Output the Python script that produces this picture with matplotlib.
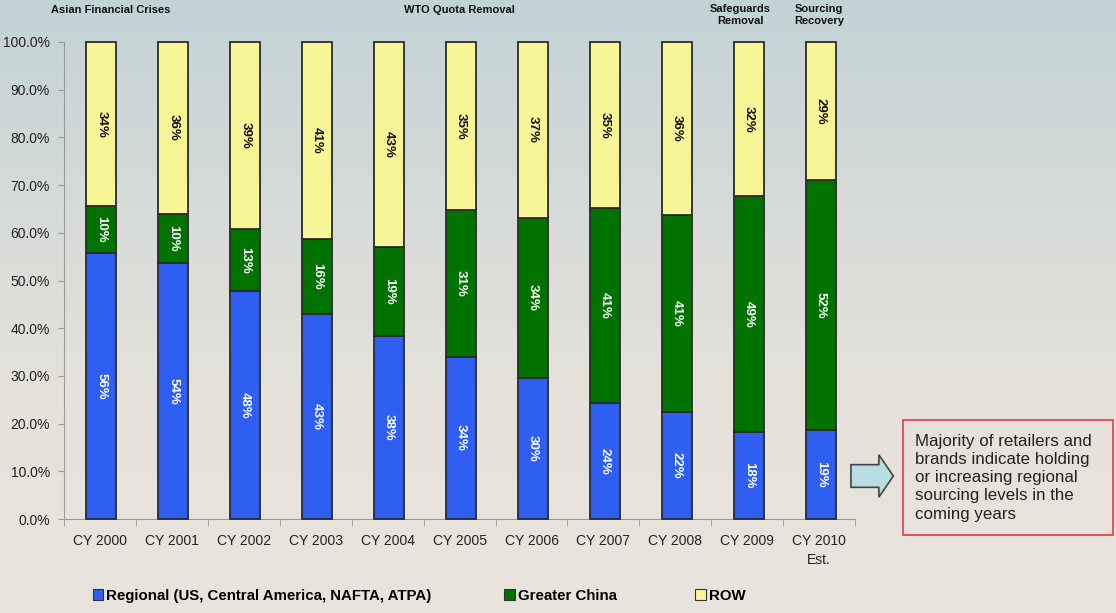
import matplotlib
matplotlib.use("Agg")
import matplotlib.pyplot as plt
import matplotlib.transforms as mtransforms
import numpy as np
from matplotlib.colors import LinearSegmentedColormap
from matplotlib.patches import FancyArrow, Patch, Rectangle

plt.rcParams["font.family"] = ["Liberation Sans", "DejaVu Sans"]

years = ["CY 2000", "CY 2001", "CY 2002", "CY 2003", "CY 2004", "CY 2005",
         "CY 2006", "CY 2007", "CY 2008", "CY 2009", "CY 2010\nEst."]
# sourcing shares in percent (labels show the rounded values)
regional = [55.7, 53.6, 47.8, 43.0, 38.3, 34.0, 29.6, 24.3, 22.4, 18.3, 18.6]
china = [9.9, 10.4, 13.0, 15.8, 18.8, 30.7, 33.6, 40.8, 41.4, 49.4, 52.4]
row = [34.4, 36.0, 39.2, 41.2, 42.9, 35.3, 36.8, 34.9, 36.2, 32.3, 29.0]

series_names = ["Regional (US, Central America, NAFTA, ATPA)", "Greater China", "ROW"]
series_colors = ["#2f5ef2", "#007200", "#f8f597"]
label_colors = ["white", "white", "#111111"]

events = [(0.15, "Asian Financial Crises"), (5.0, "WTO Quota Removal"),
          (8.9, "Safeguards\nRemoval"), (10.0, "Sourcing\nRecovery")]

note = ("Majority of retailers and\nbrands indicate holding\n"
        "or increasing regional\nsourcing levels in the\ncoming years")

fig = plt.figure(figsize=(11.16, 6.13), dpi=100)

# soft vertical background: blue-grey at the top fading into beige
bg = fig.add_axes([0, 0, 1, 1], zorder=-10)
grad = np.linspace(0, 1, 256).reshape(-1, 1)
cmap = LinearSegmentedColormap.from_list("bg", ["#c2d3d6", "#d6dbd8", "#e6e2db", "#e9e4dd"])
bg.imshow(grad, aspect="auto", cmap=cmap, extent=[0, 1, 0, 1], origin="upper")
bg.axis("off")

ax = fig.add_axes([0.0573, 0.1533, 0.709, 0.7782])
ax.patch.set_alpha(0)

x = np.arange(len(years))
width = 0.42
bottom = np.zeros(len(years))
for vals, color, tcolor in zip([regional, china, row], series_colors, label_colors):
    vals = np.array(vals, dtype=float)
    bars = ax.bar(x + 0.02, vals, width, bottom=bottom, color=color, edgecolor="#2a2a2a",
                  linewidth=1.3, zorder=3)
    for b in bars:
        b.set_clip_on(False)
    for xi, b, v in zip(x, bottom, vals):
        ax.text(xi + 0.02, b + v / 2, f"{v:.0f}%", rotation=-90, ha="center", va="center",
                color=tcolor, fontsize=9.5, fontweight="bold", zorder=4)
    bottom += vals

ax.set_xlim(-0.5, len(years) - 0.5)
ax.set_ylim(0, 100)
ax.set_yticks(np.arange(0, 101, 10))
ax.set_yticklabels([f"{v:.1f}%" for v in range(0, 101, 10)])
ax.set_xticks(x)
ax.set_xticklabels(years, linespacing=1.45)
ax.set_xticks(np.arange(-0.5, len(years)), minor=True)
ax.tick_params(axis="x", which="major", length=0, pad=11, labelsize=10, labelcolor="#222222")
ax.tick_params(axis="x", which="minor", length=5, color="#999999")
ax.tick_params(axis="y", length=4, color="#999999", labelsize=10, labelcolor="#222222", pad=6)
for side in ["top", "right"]:
    ax.spines[side].set_visible(False)
for side in ["left", "bottom"]:
    ax.spines[side].set_color("#999999")

# event notes above the bars: x in data units, y in figure units
trans = mtransforms.blended_transform_factory(ax.transData, fig.transFigure)
for xi, txt in events:
    if "\n" in txt:
        ax.text(xi, 0.994, txt, transform=trans, ha="center", va="top", fontsize=8,
                fontweight="bold", color="#111111", linespacing=1.3, clip_on=False)
    else:
        ax.text(xi, 0.983, txt, transform=trans, ha="center", va="center", fontsize=8,
                fontweight="bold", color="#111111", clip_on=False)

# legend entries spread along the bottom
legend_x = [0.083, 0.452, 0.623]
for name, color, lx in zip(series_names, series_colors, legend_x):
    h = Patch(facecolor=color, edgecolor="#333333", linewidth=0.8)
    fig.legend([h], [name], loc="center left", bbox_to_anchor=(lx, 0.028),
               frameon=False, handlelength=0.7, handleheight=0.7, handletextpad=0.2,
               prop={"weight": "bold", "size": 10.8}, borderaxespad=0, borderpad=0)

# call-out arrow and note box
fig.add_artist(FancyArrow(0.7625, 0.2235, 0.038, 0, width=0.037, head_width=0.069,
                          head_length=0.013, length_includes_head=True,
                          facecolor="#b9dde1", edgecolor="#444444", linewidth=1.2,
                          transform=fig.transFigure))
fig.add_artist(Rectangle((0.809, 0.128), 0.188, 0.187, transform=fig.transFigure,
                         facecolor="none", edgecolor="#e8474a", linewidth=1.3))
fig.text(0.820, 0.221, note, ha="left", va="center", fontsize=12.2,
         color="#222222", linespacing=1.27)

fig.savefig("out.png", dpi=100)
